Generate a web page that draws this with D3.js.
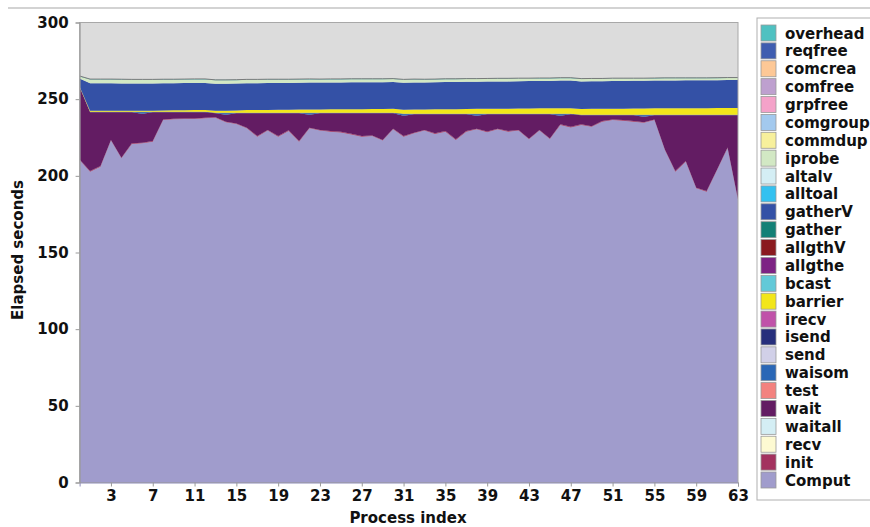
<!DOCTYPE html>
<html>
<head>
<meta charset="utf-8">
<script src="https://cdn.jsdelivr.net/npm/d3@7"></script>
<style>
  body { margin: 0; background: #fff; }
  svg text { font-family: "DejaVu Sans", sans-serif; font-weight: bold; }
</style>
</head>
<body>
<svg id="chart"></svg>
<script>
// legend order (top to bottom) with colours
const legendKeys = ["overhead", "reqfree", "comcrea", "comfree", "grpfree", "comgroup", "commdup",
  "iprobe", "altalv", "alltoal", "gatherV", "gather", "allgthV", "allgthe", "bcast", "barrier",
  "irecv", "isend", "send", "waisom", "test", "wait", "waitall", "recv", "init", "Comput"];
const legendColors = ["#4fc1c1", "#3f5db0", "#fdc896", "#bea0cf", "#f4a2c9", "#a3c9ee", "#f7f09c",
  "#d2e8c4", "#d4eef4", "#33c1f0", "#3451a6", "#138076", "#8a1a1f", "#7d2384", "#62c9d8", "#f2e61a",
  "#c052a9", "#262f7c", "#d1d0e8", "#2a67b6", "#f3827f", "#631c63", "#d4eef4", "#fdfad2", "#a3325f", "#a09ccc"];

const xTicks = [3, 7, 11, 15, 19, 23, 27, 31, 35, 39, 43, 47, 51, 55, 59, 63];
const yTicks = [0, 50, 100, 150, 200, 250, 300];

// seconds per process (index 0..63)
const comput = [210.3, 202.7, 206, 223, 211.4, 220.8, 221.2, 222.3, 236.4, 236.9, 237, 237, 237.5, 237.8, 234.9, 233.8,
  231, 225.5, 229.5, 225.5, 229.3, 222.3, 231, 229.5, 228.8, 228.3, 227, 225.5, 225.9, 223, 230.3, 225.5,
  227.7, 229.5, 227.3, 228.8, 223.4, 228.8, 230.3, 228.5, 230.3, 228.8, 229.5, 223.8, 229.5, 224, 233.2, 231.6,
  233.2, 232, 235.3, 236.4, 236, 235.3, 234.6, 236.4, 216.8, 202.7, 209.2, 191.9, 189.7, 203.8, 218, 184.2];
const init = [0.4, 0.4, 0.4, 0.4, 0.4, 0.4, 0.4, 0.4, 0.4, 0.4, 0.4, 0.4, 0.4, 0.4, 0.4, 0.4,
  0.4, 0.4, 0.4, 0.4, 0.4, 0.4, 0.4, 0.4, 0.4, 0.4, 0.4, 0.4, 0.4, 0.4, 0.4, 0.4,
  0.4, 0.4, 0.4, 0.4, 0.4, 0.4, 0.4, 0.4, 0.4, 0.4, 0.4, 0.4, 0.4, 0.4, 0.4, 0.4,
  0.4, 0.4, 0.4, 0.4, 0.4, 0.4, 0.4, 0.4, 0.4, 0.4, 0.4, 0.4, 0.4, 0.4, 0.4, 0.4];
const wait = [47.3, 38.4, 35.1, 18.1, 29.7, 20.3, 18.9, 18.8, 4.7, 4.2, 4.1, 4.1, 3.6, 2.6, 4.5, 6.6,
  9.4, 14.9, 10.9, 14.9, 11.1, 18.1, 8.4, 10.9, 11.6, 12.1, 13.4, 14.9, 14.5, 17.4, 10.1, 13.3,
  12.1, 10.3, 12.5, 11.0, 16.4, 11.0, 8.5, 11.3, 9.5, 11.0, 10.3, 16.0, 10.3, 15.8, 5.6, 8.2,
  5.9, 7.1, 3.8, 2.7, 3.1, 3.8, 3.5, 2.7, 22.3, 36.4, 29.9, 47.2, 49.4, 35.3, 21.1, 54.9];
const waisom = [0, 0, 0, 0, 0, 0, 1.0, 0, 0, 0, 0, 0, 0, 0, 1.0, 0,
  0, 0, 0, 0, 0, 0, 1.0, 0, 0, 0, 0, 0, 0, 0, 0, 1.0,
  0, 0, 0, 0, 0, 0, 1.0, 0, 0, 0, 0, 0, 0, 0, 1.0, 0,
  0, 0, 0, 0, 0, 0, 1.0, 0, 0, 0, 0, 0, 0, 0, 0, 0];
const isend = [0, 0.3, 0.3, 0.3, 0.3, 0.3, 0.3, 0.3, 0.3, 0.3, 0.3, 0.3, 0.3, 0.3, 0.3, 0.3,
  0.3, 0.3, 0.3, 0.3, 0.3, 0.3, 0.3, 0.3, 0.3, 0.3, 0.3, 0.3, 0.3, 0.3, 0.3, 0.3,
  0.3, 0.3, 0.3, 0.3, 0.3, 0.3, 0.3, 0.3, 0.3, 0.3, 0.3, 0.3, 0.3, 0.3, 0.3, 0.3,
  0.3, 0.3, 0.3, 0.3, 0.3, 0.3, 0.3, 0.3, 0.3, 0.3, 0.3, 0.3, 0.3, 0.3, 0.3, 0.3];
const barrier = [0.2, 0.6, 0.6, 0.6, 0.6, 0.6, 0.6, 0.6, 0.8, 0.9, 1.0, 1.1, 1.2, 1.3, 1.4, 1.5,
  1.8, 1.8, 1.9, 2.0, 2.0, 2.1, 2.2, 2.2, 2.3, 2.3, 2.4, 2.4, 2.5, 2.5, 2.6, 2.6,
  2.8, 2.8, 2.9, 3.0, 3.0, 3.1, 3.2, 3.2, 3.3, 3.3, 3.4, 3.4, 3.5, 3.5, 3.6, 3.6,
  3.8, 3.9, 3.9, 4.0, 4.0, 4.1, 4.1, 4.2, 4.2, 4.2, 4.3, 4.3, 4.3, 4.4, 4.4, 4.4];
const gatherV = [5.3, 17.9, 17.9, 17.9, 17.8, 17.8, 17.8, 17.8, 17.7, 17.7, 17.7, 17.7, 17.6, 17.6, 17.6, 17.6,
  17.5, 17.5, 17.5, 17.5, 17.5, 17.5, 17.5, 17.5, 17.5, 17.5, 17.5, 17.5, 17.5, 17.5, 17.5, 17.6,
  17.6, 17.6, 17.6, 17.7, 17.7, 17.7, 17.7, 17.8, 17.8, 17.8, 17.8, 17.9, 17.9, 17.9, 18.0, 18.0,
  18.0, 18.0, 18.0, 18.1, 18.1, 18.1, 18.1, 18.1, 18.2, 18.2, 18.2, 18.2, 18.2, 18.2, 18.3, 18.3];
const iprobe = [1.3, 2.5, 2.5, 2.5, 2.5, 2.4, 2.4, 2.4, 2.4, 2.3, 2.3, 2.3, 2.3, 2.3, 2.2, 2.2,
  2.2, 2.2, 2.2, 2.1, 2.1, 2.1, 2.1, 2.0, 2.0, 2.0, 2.0, 2.0, 1.9, 1.9, 1.9, 1.9,
  1.9, 1.8, 1.8, 1.8, 1.8, 1.8, 1.7, 1.7, 1.7, 1.7, 1.7, 1.6, 1.6, 1.6, 1.6, 1.6,
  1.5, 1.5, 1.5, 1.5, 1.5, 1.4, 1.4, 1.4, 1.4, 1.4, 1.3, 1.3, 1.3, 1.3, 1.3, 1.3];
const overhead = [0.3, 0.3, 0.3, 0.3, 0.3, 0.3, 0.3, 0.3, 0.3, 0.3, 0.3, 0.3, 0.3, 0.3, 0.3, 0.3,
  0.3, 0.3, 0.3, 0.3, 0.3, 0.3, 0.3, 0.3, 0.3, 0.3, 0.3, 0.3, 0.3, 0.3, 0.3, 0.3,
  0.3, 0.3, 0.3, 0.3, 0.3, 0.3, 0.3, 0.3, 0.3, 0.3, 0.3, 0.3, 0.3, 0.3, 0.3, 0.3,
  0.3, 0.3, 0.3, 0.3, 0.3, 0.3, 0.3, 0.3, 0.3, 0.3, 0.3, 0.3, 0.3, 0.3, 0.3, 0.3];

// series that are non-zero; everything else in the legend stacks as 0
const seriesValues = { Comput: comput, init, wait, waisom, isend, barrier, gatherV, iprobe, overhead };

const width = 870;
const height = 527;

const svg = d3.select("#chart")
  .attr("width", width)
  .attr("height", height);

// table for d3.stack: one row per process
const rows = comput.map((_, i) => {
  const row = { proc: i };
  legendKeys.forEach(k => { row[k] = seriesValues[k] ? seriesValues[k][i] : 0; });
  return row;
});

const stackKeys = legendKeys.slice().reverse(); // Comput at the bottom
const colorOf = d3.scaleOrdinal().domain(legendKeys).range(legendColors);

const stacked = d3.stack().keys(stackKeys)(rows);

const x = d3.scaleLinear().domain([0, 63]).range([79.6, 738]);
const y = d3.scaleLinear().domain([0, 300]).range([482.5, 22.5]);

// top frame line
svg.append("line")
  .attr("x1", 8).attr("x2", width)
  .attr("y1", 8).attr("y2", 8)
  .attr("stroke", "#c4c4c4")
  .attr("stroke-width", 1.5);

// plot background
svg.append("rect")
  .attr("x", x(0)).attr("y", y(300))
  .attr("width", x(63) - x(0)).attr("height", y(0) - y(300))
  .attr("fill", "#dcdcdc");

const area = d3.area()
  .x(d => x(d.data.proc))
  .y0(d => y(d[0]))
  .y1(d => y(d[1]));

svg.append("g")
  .selectAll("path")
  .data(stacked)
  .join("path")
  .attr("fill", d => colorOf(d.key))
  .attr("d", area);

// outline along the top of the stack
svg.append("path")
  .datum(stacked[stacked.length - 1])
  .attr("fill", "none")
  .attr("stroke", "#7a7a7a")
  .attr("stroke-width", 1)
  .attr("d", d3.line().x(d => x(d.data.proc)).y(d => y(d[1])));

// plot border
svg.append("rect")
  .attr("x", x(0)).attr("y", y(300))
  .attr("width", x(63) - x(0)).attr("height", y(0) - y(300))
  .attr("fill", "none")
  .attr("stroke", "#a8a8a8")
  .attr("stroke-width", 1);

// axes
const xAxisG = svg.append("g")
  .attr("transform", `translate(0,${y(0)})`)
  .call(d3.axisBottom(x).tickValues(xTicks).tickSize(4).tickPadding(4));
xAxisG.select(".domain").attr("stroke", "#8e8bb8");
xAxisG.selectAll(".tick line").attr("stroke", "#999");
xAxisG.selectAll("text").attr("font-size", 15).attr("fill", "#111");

const yAxisG = svg.append("g")
  .attr("transform", `translate(${x(0)},0)`)
  .call(d3.axisLeft(y).tickValues(yTicks).tickSize(4).tickPadding(7));
yAxisG.select(".domain").attr("stroke", "#999");
yAxisG.selectAll(".tick line").attr("stroke", "#999");
yAxisG.selectAll("text").attr("font-size", 15).attr("fill", "#111");

svg.append("text")
  .attr("x", 408).attr("y", 523)
  .attr("text-anchor", "middle")
  .attr("font-size", 15)
  .attr("fill", "#111")
  .text("Process index");

svg.append("text")
  .attr("transform", "translate(23,250) rotate(-90)")
  .attr("text-anchor", "middle")
  .attr("font-size", 15)
  .attr("fill", "#111")
  .text("Elapsed seconds");

// legend
const legend = svg.append("g");
legend.append("rect")
  .attr("x", 757).attr("y", 18)
  .attr("width", 130).attr("height", 482)
  .attr("fill", "#fff")
  .attr("stroke", "#b0b0b0");

const item = legend.selectAll("g.item")
  .data(legendKeys)
  .join("g")
  .attr("class", "item")
  .attr("transform", (d, i) => `translate(761,${33 + i * 17.88})`);

item.append("rect")
  .attr("x", 0).attr("y", -8)
  .attr("width", 15).attr("height", 16)
  .attr("fill", d => colorOf(d))
  .attr("stroke", "#999")
  .attr("stroke-width", 0.8);

item.append("text")
  .attr("x", 24).attr("y", 5.5)
  .attr("font-size", 15)
  .attr("fill", "#111")
  .text(d => d);
</script>
</body>
</html>
